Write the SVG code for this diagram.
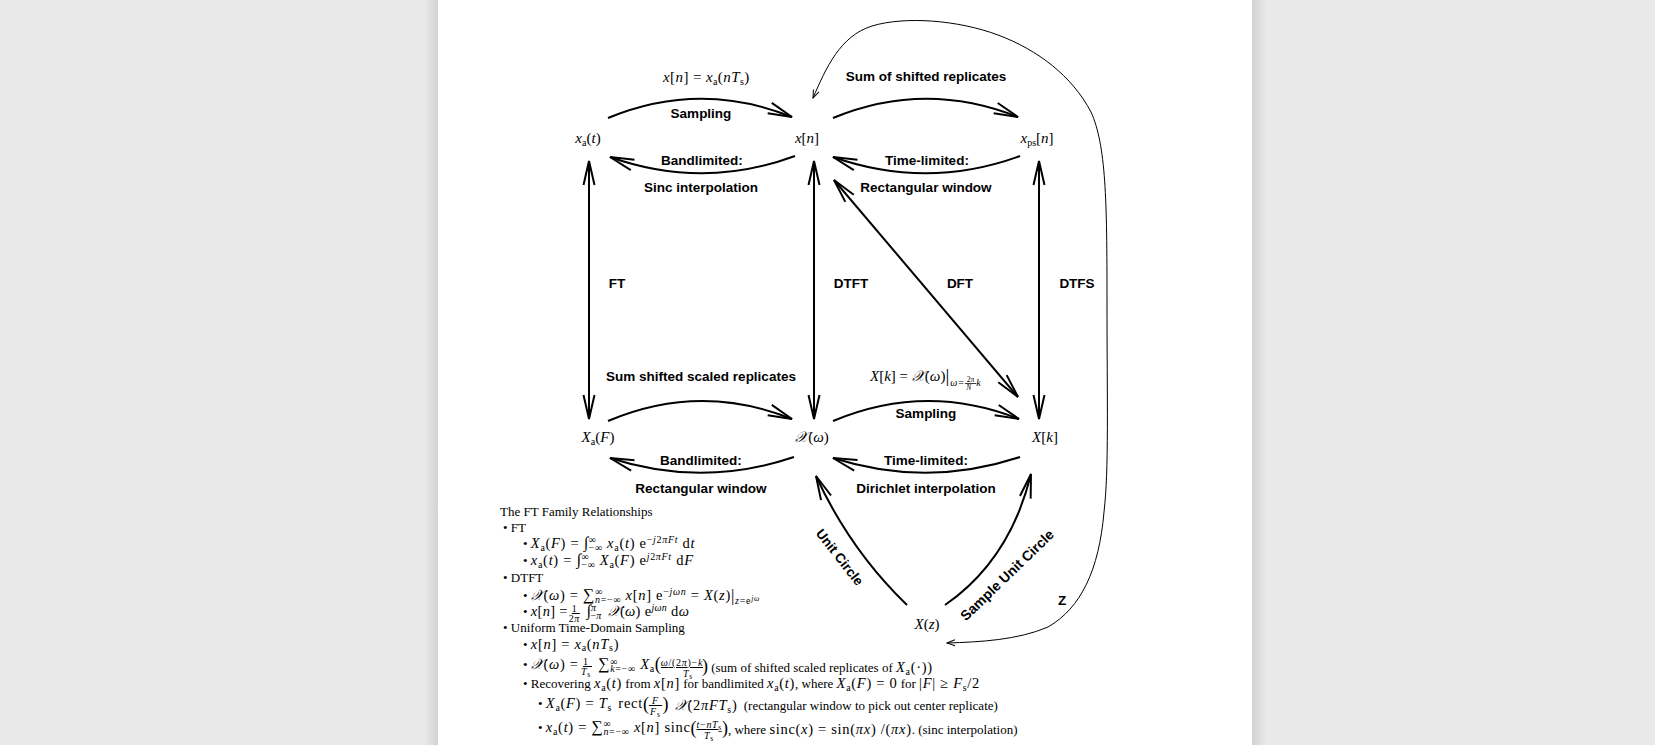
<svg xmlns="http://www.w3.org/2000/svg" width="1655" height="745" viewBox="0 0 1655 745">
<defs>
<style>
.lbl{font-family:"Liberation Sans",Arial,sans-serif;font-weight:bold;font-size:13.5px;text-anchor:middle;fill:#000}
.m{font-family:"Liberation Serif","DejaVu Serif",serif;font-size:15px;fill:#000}
.mc{text-anchor:middle}
.t{font-family:"Liberation Serif","DejaVu Serif",serif;font-size:13px;fill:#000}
.mt{font-size:14.5px;letter-spacing:0.7px}
.p{font-size:13px;letter-spacing:0}
.i{font-style:italic}
.s{font-size:10px}
.ss{font-size:7.5px}
.op{font-size:16px}
.bp{font-size:18px;letter-spacing:0}
.u{text-decoration:underline}
.c{fill:none;stroke:#000;stroke-width:2}
.z{fill:none;stroke:#000;stroke-width:1}
</style>
<linearGradient id="gl" x1="0" x2="1" y1="0" y2="0"><stop offset="0" stop-color="#e9e9e9"/><stop offset="1" stop-color="#d2d2d2"/></linearGradient>
<linearGradient id="gr" x1="1" x2="0" y1="0" y2="0"><stop offset="0" stop-color="#e9e9e9"/><stop offset="1" stop-color="#d2d2d2"/></linearGradient>
<marker id="ah" markerUnits="userSpaceOnUse" markerWidth="30" markerHeight="16" refX="0" refY="0" orient="auto-start-reverse" overflow="visible"><path d="M-24,-5.5 L0,0 L-24,5.5" fill="none" stroke="#000" stroke-width="2"/></marker>
<marker id="zh" markerUnits="userSpaceOnUse" markerWidth="12" markerHeight="8" refX="0" refY="0" orient="auto-start-reverse" overflow="visible"><path d="M-8,-3 L0,0 L-8,3" fill="none" stroke="#000" stroke-width="1"/></marker>
</defs>
<rect x="0" y="0" width="1655" height="745" fill="#e9e9e9"/>
<rect x="424" y="0" width="14" height="745" fill="url(#gl)"/>
<rect x="1252" y="0" width="14" height="745" fill="url(#gr)"/>
<rect x="438" y="0" width="814" height="745" fill="#fff"/>

<g id="connectors">
<path class="c" d="M608,118 Q700,80 792,117" marker-end="url(#ah)"/>
<path class="c" d="M795,156 Q703,190 610,157" marker-end="url(#ah)"/>
<path class="c" d="M833,118 Q925,80 1018,117" marker-end="url(#ah)"/>
<path class="c" d="M1020,156 Q927,190 833,157" marker-end="url(#ah)"/>
<path class="c" d="M608,421 Q700,382 792,419" marker-end="url(#ah)"/>
<path class="c" d="M794,457 Q702,488 610,458" marker-end="url(#ah)"/>
<path class="c" d="M833,421 Q926,382 1019,419" marker-end="url(#ah)"/>
<path class="c" d="M1020,457 Q927,488 833,458" marker-end="url(#ah)"/>
<path class="c" d="M589,161 L589,419" marker-start="url(#ah)" marker-end="url(#ah)"/>
<path class="c" d="M814,161 L814,419" marker-start="url(#ah)" marker-end="url(#ah)"/>
<path class="c" d="M1039,161 L1039,419" marker-start="url(#ah)" marker-end="url(#ah)"/>
<path class="c" d="M834,180 L1018,397" marker-start="url(#ah)" marker-end="url(#ah)"/>
<path class="c" d="M907,605 Q850,550 816,476" marker-end="url(#ah)"/>
<path class="c" d="M945,605 Q1010,560 1031,474" marker-end="url(#ah)"/>
<path class="z" d="M813,98 C826,68 840,36 872,26 C905,16 958,20 998,35 C1038,50 1072,76 1091,112 C1106,145 1107,200 1107,300 C1107,400 1109,470 1104,512 C1099,570 1081,608 1048,627 C1018,640 980,642 947,643" marker-start="url(#zh)" marker-end="url(#zh)"/>
</g>

<g id="edge-labels">
<text class="m" x="663" y="82" style="letter-spacing:0.4px"><tspan class="i">x</tspan>[<tspan class="i">n</tspan>] = <tspan class="i">x</tspan><tspan class="s" dy="3">a</tspan><tspan dy="-3">(</tspan><tspan class="i">nT</tspan><tspan class="s" dy="3">s</tspan><tspan dy="-3">)</tspan></text>
<text class="lbl" x="701" y="118">Sampling</text>
<text class="lbl" x="926" y="81">Sum of shifted replicates</text>
<text class="lbl" x="702" y="165">Bandlimited:</text>
<text class="lbl" x="701" y="192">Sinc interpolation</text>
<text class="lbl" x="927" y="165">Time-limited:</text>
<text class="lbl" x="926" y="192">Rectangular window</text>
<text class="lbl" x="617" y="288">FT</text>
<text class="lbl" x="851" y="288">DTFT</text>
<text class="lbl" x="960" y="288">DFT</text>
<text class="lbl" x="1077" y="288">DTFS</text>
<text class="lbl" x="701" y="381">Sum shifted scaled replicates</text>
<text class="m" x="870" y="381"><tspan class="i">X</tspan>[<tspan class="i">k</tspan>] = <tspan class="i">𝒳</tspan>(<tspan class="i">ω</tspan>)<tspan style="font-size:19px" dy="1">|</tspan><tspan class="s i" dx="1" dy="4">ω</tspan><tspan class="s" dx="1">=</tspan><tspan class="ss u" dx="1" dy="-4"> 2π </tspan><tspan class="ss i" dx="-10" dy="8">N</tspan><tspan class="s i" dx="5" dy="-4">k</tspan></text>
<text class="lbl" x="926" y="418">Sampling</text>
<text class="lbl" x="701" y="465">Bandlimited:</text>
<text class="lbl" x="926" y="465">Time-limited:</text>
<text class="lbl" x="701" y="493">Rectangular window</text>
<text class="lbl" x="926" y="493">Dirichlet interpolation</text>
<text class="lbl" transform="translate(840,557) rotate(52)" y="5">Unit Circle</text>
<text class="lbl" transform="translate(1007,575) rotate(-44)" y="5" style="font-size:14px">Sample Unit Circle</text>
<text class="lbl" x="1062" y="605">Z</text>
</g>

<g id="node-xa">
<text class="m mc" x="588" y="143"><tspan class="i">x</tspan><tspan class="s" dy="3">a</tspan><tspan dy="-3">(</tspan><tspan class="i">t</tspan>)</text>
</g>
<g id="node-xn">
<text class="m mc" x="807" y="143"><tspan class="i">x</tspan>[<tspan class="i">n</tspan>]</text>
</g>
<g id="node-xps">
<text class="m mc" x="1037" y="143"><tspan class="i">x</tspan><tspan class="s" dy="3">ps</tspan><tspan dy="-3">[</tspan><tspan class="i">n</tspan>]</text>
</g>
<g id="node-XaF">
<text class="m mc" x="598" y="442"><tspan class="i">X</tspan><tspan class="s" dy="3">a</tspan><tspan dy="-3">(</tspan><tspan class="i">F</tspan>)</text>
</g>
<g id="node-Xw">
<text class="m mc" x="812" y="442"><tspan class="i">𝒳</tspan>(<tspan class="i">ω</tspan>)</text>
</g>
<g id="node-Xk">
<text class="m mc" x="1045" y="442"><tspan class="i">X</tspan>[<tspan class="i">k</tspan>]</text>
</g>
<g id="node-Xz">
<text class="m mc" x="927" y="629"><tspan class="i">X</tspan>(<tspan class="i">z</tspan>)</text>
</g>

<g id="notes">
<text class="t" x="500" y="516">The FT Family Relationships</text>
<text class="t" x="503" y="532">• FT</text>
<text class="t mt" x="523" y="548"><tspan class="p">• </tspan><tspan class="i">X</tspan><tspan class="s" dy="3">a</tspan><tspan dy="-3">(</tspan><tspan class="i">F</tspan>) = <tspan class="op">∫</tspan><tspan class="s" dy="-5">∞</tspan><tspan class="s" dx="-8" dy="8">−∞</tspan><tspan dy="-3"> </tspan><tspan class="i">x</tspan><tspan class="s" dy="3">a</tspan><tspan dy="-3">(</tspan><tspan class="i">t</tspan>) e<tspan class="s" dy="-5">−</tspan><tspan class="s i">j</tspan><tspan class="s">2</tspan><tspan class="s i">πFt</tspan><tspan dy="5"> d</tspan><tspan class="i">t</tspan></text>
<text class="t mt" x="523" y="565"><tspan class="p">• </tspan><tspan class="i">x</tspan><tspan class="s" dy="3">a</tspan><tspan dy="-3">(</tspan><tspan class="i">t</tspan>) = <tspan class="op">∫</tspan><tspan class="s" dy="-5">∞</tspan><tspan class="s" dx="-8" dy="8">−∞</tspan><tspan dy="-3"> </tspan><tspan class="i">X</tspan><tspan class="s" dy="3">a</tspan><tspan dy="-3">(</tspan><tspan class="i">F</tspan>) e<tspan class="s i" dy="-5">j</tspan><tspan class="s">2</tspan><tspan class="s i">πFt</tspan><tspan dy="5"> d</tspan><tspan class="i">F</tspan></text>
<text class="t" x="503" y="582">• DTFT</text>
<text class="t mt" x="523" y="600"><tspan class="p">• </tspan><tspan class="i">𝒳</tspan>(<tspan class="i">ω</tspan>) = <tspan class="op">∑</tspan><tspan class="s" dy="-5">∞</tspan><tspan class="s" dx="-8" dy="8"><tspan class="i">n</tspan>=−∞</tspan><tspan dy="-3"> </tspan><tspan class="i">x</tspan>[<tspan class="i">n</tspan>] e<tspan class="s" dy="-5">−</tspan><tspan class="s i">jωn</tspan><tspan dy="5"> = </tspan><tspan class="i">X</tspan>(<tspan class="i">z</tspan>)<tspan style="font-size:17px" dy="1">|</tspan><tspan class="s i" dy="3">z</tspan><tspan class="s">=e</tspan><tspan class="ss i" dy="-3">jω</tspan><tspan dy="-1"> </tspan></text>
<text class="t mt" x="523" y="616" style="letter-spacing:0.3px"><tspan class="p">• </tspan><tspan class="i">x</tspan>[<tspan class="i">n</tspan>] = <tspan class="s u" dy="-4"> 1 </tspan><tspan class="s" dx="-11" dy="10">2<tspan class="i">π</tspan></tspan><tspan dx="3" dy="-6"> </tspan><tspan class="op">∫</tspan><tspan class="s i" dy="-5">π</tspan><tspan class="s" dx="-6" dy="8">−<tspan class="i">π</tspan></tspan><tspan dx="2" dy="-3"> </tspan><tspan class="i">𝒳</tspan>(<tspan class="i">ω</tspan>) e<tspan class="s i" dy="-5">jωn</tspan><tspan dy="5"> d</tspan><tspan class="i">ω</tspan></text>
<text class="t" x="503" y="632">• Uniform Time-Domain Sampling</text>
<text class="t mt" x="523" y="649"><tspan class="p">• </tspan><tspan class="i">x</tspan>[<tspan class="i">n</tspan>] = <tspan class="i">x</tspan><tspan class="s" dy="2">a</tspan><tspan dy="-2">(</tspan><tspan class="i">nT</tspan><tspan class="s" dy="2">s</tspan><tspan dy="-2">)</tspan></text>
<text class="t mt" x="523" y="669"><tspan class="p">• </tspan><tspan class="i">𝒳</tspan>(<tspan class="i">ω</tspan>) = <tspan class="s u" dy="-4"> 1 </tspan><tspan class="s i" dx="-11" dy="10">T</tspan><tspan class="ss" dy="2">s</tspan><tspan dx="3" dy="-8"> </tspan><tspan class="op">∑</tspan><tspan class="s" dy="-4">∞</tspan><tspan class="s" dx="-8" dy="7"><tspan class="i">k</tspan>=−∞</tspan><tspan dy="-3"> </tspan><tspan class="i">X</tspan><tspan class="s" dy="3">a</tspan><tspan class="bp" dy="-2">(</tspan><tspan class="s u" dy="-4"><tspan class="i">ω</tspan>/(2<tspan class="i">π</tspan>)−<tspan class="i">k</tspan></tspan><tspan class="s i" dx="-20" dy="11">T</tspan><tspan class="ss" dy="2">s</tspan><tspan class="bp" dx="9" dy="-7">)</tspan><tspan class="p"> (sum of shifted scaled replicates of </tspan><tspan class="i">X</tspan><tspan class="s" dy="3">a</tspan><tspan dy="-3">(·))</tspan></text>
<text class="t mt" x="523" y="688"><tspan class="p">• Recovering </tspan><tspan class="i">x</tspan><tspan class="s" dy="3">a</tspan><tspan dy="-3">(</tspan><tspan class="i">t</tspan>)<tspan class="p"> from </tspan><tspan class="i">x</tspan>[<tspan class="i">n</tspan>]<tspan class="p"> for bandlimited </tspan><tspan class="i">x</tspan><tspan class="s" dy="3">a</tspan><tspan dy="-3">(</tspan><tspan class="i">t</tspan>)<tspan class="p">, where </tspan><tspan class="i">X</tspan><tspan class="s" dy="3">a</tspan><tspan dy="-3">(</tspan><tspan class="i">F</tspan>) = 0<tspan class="p"> for </tspan>|<tspan class="i">F</tspan>| ≥ <tspan class="i">F</tspan><tspan class="s" dy="3">s</tspan><tspan dy="-3">/2</tspan></text>
<text class="t mt" x="538" y="708"><tspan class="p">• </tspan><tspan class="i">X</tspan><tspan class="s" dy="3">a</tspan><tspan dy="-3">(</tspan><tspan class="i">F</tspan>) = <tspan class="i">T</tspan><tspan class="s" dy="3">s</tspan><tspan dx="2" dy="-3"> rect</tspan><tspan class="bp" dy="2">(</tspan><tspan class="s i u" dy="-6"> F </tspan><tspan class="s i" dx="-12" dy="11">F</tspan><tspan class="ss" dy="2">s</tspan><tspan class="bp" dx="2" dy="-7">)</tspan><tspan dx="2" dy="0"> </tspan><tspan class="i">𝒳</tspan>(2<tspan class="i">πFT</tspan><tspan class="s" dy="3">s</tspan><tspan dy="-3">)</tspan><tspan class="p" dx="3"> (rectangular window to pick out center replicate)</tspan></text>
<text class="t mt" x="538" y="732"><tspan class="p">• </tspan><tspan class="i">x</tspan><tspan class="s" dy="3">a</tspan><tspan dy="-3">(</tspan><tspan class="i">t</tspan>) = <tspan class="op">∑</tspan><tspan class="s" dy="-5">∞</tspan><tspan class="s" dx="-8" dy="8"><tspan class="i">n</tspan>=−∞</tspan><tspan dy="-3"> </tspan><tspan class="i">x</tspan>[<tspan class="i">n</tspan>] sinc<tspan class="bp" dy="2">(</tspan><tspan class="s u" dy="-6"><tspan class="i">t</tspan>−<tspan class="i">nT</tspan><tspan class="ss" dy="2">s</tspan></tspan><tspan class="s i" dx="-18" dy="9">T</tspan><tspan class="ss" dy="2">s</tspan><tspan class="bp" dx="8" dy="-7">)</tspan><tspan class="p">, where </tspan>sinc(<tspan class="i">x</tspan>) = sin(<tspan class="i">πx</tspan>) /(<tspan class="i">πx</tspan>)<tspan class="p">. (sinc interpolation)</tspan></text>
</g>
</svg>
